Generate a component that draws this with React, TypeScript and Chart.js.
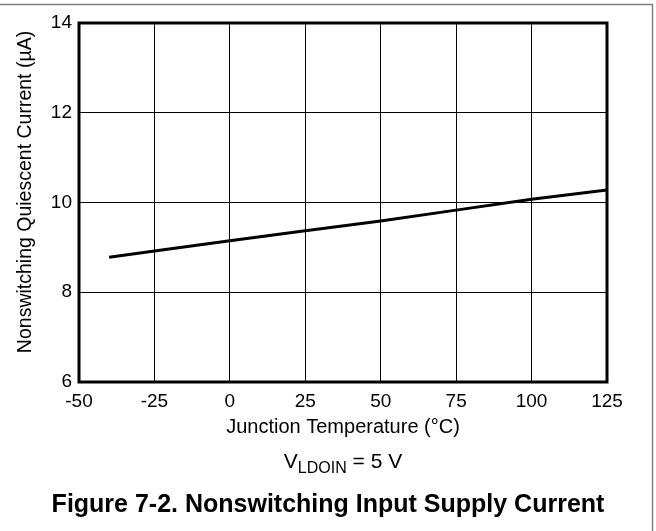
import React, { useEffect, useRef } from "react";
import { Chart, registerables } from "chart.js";

Chart.register(...registerables);

const temperatures = [-40, -25, 0, 25, 50, 75, 100, 125];
const currents = [8.78, 8.92, 9.15, 9.37, 9.59, 9.83, 10.07, 10.28];
const xTicks = [-50, -25, 0, 25, 50, 75, 100, 125];
const yTicks = [6, 8, 10, 12, 14];

const xTitle = "Junction Temperature (°C)";
const yTitle = "Nonswitching Quiescent Current (µA)";
const condMain = "V";
const condSub = "LDOIN";
const condRest = " = 5 V";
const figTitle = "Figure 7-2. Nonswitching Input Supply Current";

const FONT = "Arial, 'Liberation Sans', Helvetica, sans-serif";

const decorPlugin = {
  id: "decor",
  afterDraw(chart: any) {
    const ctx = chart.ctx as CanvasRenderingContext2D;
    const a = chart.chartArea;
    ctx.save();
    // frame
    ctx.strokeStyle = "#000";
    ctx.lineWidth = 3;
    ctx.strokeRect(a.left, a.top, a.right - a.left, a.bottom - a.top);
    // outer border
    ctx.strokeStyle = "#808080";
    ctx.lineWidth = 1.5;
    ctx.beginPath();
    ctx.moveTo(0, 4.5);
    ctx.lineTo(652.5, 4.5);
    ctx.lineTo(652.5, 531);
    ctx.stroke();

    ctx.fillStyle = "#000";
    const cx = (a.left + a.right) / 2;
    // x title
    ctx.font = `20px ${FONT}`;
    ctx.textAlign = "center";
    ctx.textBaseline = "alphabetic";
    ctx.fillText(xTitle, cx, 433);
    // y title
    ctx.font = `19.5px ${FONT}`;
    ctx.save();
    ctx.translate(31, 192);
    ctx.rotate(-Math.PI / 2);
    ctx.fillText(yTitle, 0, 0);
    ctx.restore();
    // condition
    ctx.font = `21px ${FONT}`;
    const w1 = ctx.measureText(condMain).width;
    const w3 = ctx.measureText(condRest).width;
    ctx.font = `16px ${FONT}`;
    const w2 = ctx.measureText(condSub).width;
    const total = w1 + w2 + w3;
    let x = cx - total / 2;
    ctx.textAlign = "left";
    ctx.font = `21px ${FONT}`;
    ctx.fillText(condMain, x, 468);
    x += w1;
    ctx.font = `16px ${FONT}`;
    ctx.fillText(condSub, x, 473);
    x += w2;
    ctx.font = `21px ${FONT}`;
    ctx.fillText(condRest, x, 468);
    // figure title
    ctx.font = `bold 25px ${FONT}`;
    ctx.textAlign = "center";
    ctx.fillText(figTitle, 328, 512);
    ctx.restore();
  },
};

export default function App() {
  const ref = useRef<HTMLCanvasElement>(null);
  useEffect(() => {
    if (!ref.current) return;
    const chart = new Chart(ref.current, {
      type: "line",
      data: {
        datasets: [
          {
            data: temperatures.map((t, i) => ({ x: t, y: currents[i] })),
            borderColor: "#000",
            borderWidth: 3,
            pointRadius: 0,
            tension: 0,
            fill: false,
          },
        ],
      },
      options: {
        animation: false,
        responsive: false,
        devicePixelRatio: 1,
        layout: { padding: { top: 23, right: 49, left: 0, bottom: 0 } },
        plugins: { legend: { display: false }, tooltip: { enabled: false } },
        scales: {
          x: {
            type: "linear",
            min: -50,
            max: 125,
            afterBuildTicks: (s: any) => {
              s.ticks = xTicks.map((v) => ({ value: v }));
            },
            afterFit: (s: any) => {
              s.height = 149;
            },
            ticks: {
              color: "#000",
              font: { size: 19, family: FONT },
              padding: 8,
              maxRotation: 0,
              autoSkip: false,
            },
            grid: { color: "#000", lineWidth: 1, drawTicks: false },
            border: { display: false },
          },
          y: {
            type: "linear",
            min: 6,
            max: 14,
            afterBuildTicks: (s: any) => {
              s.ticks = yTicks.map((v) => ({ value: v }));
            },
            afterFit: (s: any) => {
              s.width = 79;
            },
            ticks: {
              color: "#000",
              font: { size: 19, family: FONT },
              padding: 7,
              autoSkip: false,
            },
            grid: { color: "#000", lineWidth: 1, drawTicks: false },
            border: { display: false },
          },
        },
      },
      plugins: [decorPlugin],
    });
    return () => chart.destroy();
  }, []);
  return (
    <div style={{ position: "absolute", left: 0, top: 0, width: 656, height: 531, background: "#fff" }}>
      <canvas ref={ref} width={656} height={531} style={{ display: "block", width: 656, height: 531 }} />
    </div>
  );
}
